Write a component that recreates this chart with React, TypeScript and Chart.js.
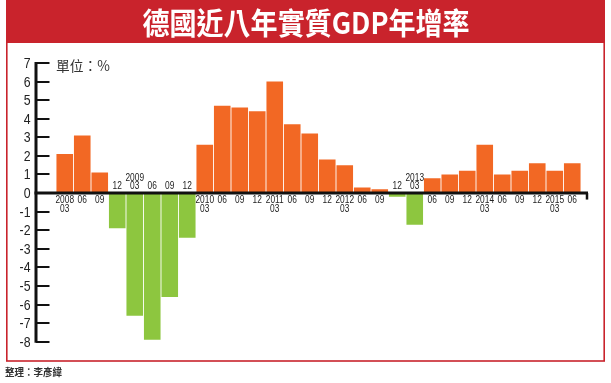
import { useEffect, useRef } from 'react';
import { Chart, registerables } from 'chart.js';

Chart.register(...registerables);

const TITLE = '德國近八年實質GDP年增率';
const UNIT = '單位：%';
const CREDIT = '整理：李彥緯';

const months = [
  '03', '06', '09', '12', '03', '06', '09', '12', '03', '06', '09', '12',
  '03', '06', '09', '12', '03', '06', '09', '12', '03', '06', '09', '12',
  '03', '06', '09', '12', '03', '06',
];
const years = [
  '2008', '', '', '', '2009', '', '', '', '2010', '', '', '',
  '2011', '', '', '', '2012', '', '', '', '2013', '', '', '',
  '2014', '', '', '', '2015', '',
];
const values = [
  2.1, 3.1, 1.1, -1.9, -6.6, -7.9, -5.6, -2.4, 2.6, 4.7, 4.6, 4.4,
  6.0, 3.7, 3.2, 1.8, 1.5, 0.3, 0.2, -0.2, -1.7, 0.8, 1.0, 1.2,
  2.6, 1.0, 1.2, 1.6, 1.2, 1.6,
];
const yTicks = [7, 6, 5, 4, 3, 2, 1, 0, -1, -2, -3, -4, -5, -6, -7, -8];

const ORANGE = '#F26824';
const GREEN = '#8DC63F';
const RED = '#C9232C';
const TEXT = '#222222';

function drawText(ctx: CanvasRenderingContext2D, text: string, x: number, y: number, font: string, align: CanvasTextAlign, sx: number, color: string) {
  ctx.save();
  ctx.font = font;
  ctx.fillStyle = color;
  ctx.textBaseline = 'middle';
  ctx.textAlign = align;
  ctx.translate(x, y);
  ctx.scale(sx, 1);
  ctx.fillText(text, 0, 0);
  ctx.restore();
}

const chromePlugin = {
  id: 'chrome',
  beforeDraw(chart: any) {
    const ctx = chart.ctx as CanvasRenderingContext2D;
    ctx.save();
    ctx.fillStyle = '#ffffff';
    ctx.fillRect(0, 0, chart.width, chart.height);
    // frame
    ctx.strokeStyle = RED;
    ctx.lineWidth = 1.6;
    ctx.strokeRect(6.8, 10, 597.4, 351);
    ctx.fillStyle = RED;
    ctx.fillRect(6, 0, 599, 43);
    // title
    const tf = 'bold 30px "Noto Sans CJK TC", "Noto Sans CJK SC", sans-serif';
    ctx.font = tf;
    const w = ctx.measureText(TITLE).width;
    drawText(ctx, TITLE, 306, 23, tf, 'center', 327 / w, '#ffffff');
    // credit
    drawText(ctx, CREDIT, 5, 372.5, 'bold 10px "Noto Sans CJK TC", sans-serif', 'left', 0.95, '#333333');
    ctx.restore();
  },
  afterDatasetsDraw(chart: any) {
    const ctx = chart.ctx as CanvasRenderingContext2D;
    const y = chart.scales.y;
    const x = chart.scales.x;
    const axisX = 36;
    const zeroY = y.getPixelForValue(0);
    ctx.save();
    ctx.strokeStyle = '#111111';
    ctx.lineCap = 'butt';
    // y axis line
    ctx.lineWidth = 3;
    ctx.beginPath();
    ctx.moveTo(axisX, y.getPixelForValue(yTicks[0]) - 1);
    ctx.lineTo(axisX, y.getPixelForValue(yTicks[yTicks.length - 1]) + 1);
    ctx.stroke();
    // ticks and labels
    ctx.lineWidth = 2;
    yTicks.forEach((t) => {
      const py = Math.round(y.getPixelForValue(t));
      ctx.beginPath();
      ctx.moveTo(axisX, py);
      ctx.lineTo(49.5, py);
      ctx.stroke();
      drawText(ctx, String(t), 30.5, py + 0.5, '15px "Liberation Sans", Arial, sans-serif', 'right', 0.82, TEXT);
    });
    // zero line
    ctx.lineWidth = 3;
    ctx.beginPath();
    ctx.moveTo(axisX - 1.5, zeroY);
    ctx.lineTo(588, zeroY);
    ctx.stroke();
    ctx.lineWidth = 2.5;
    ctx.beginPath();
    ctx.moveTo(587, zeroY);
    ctx.lineTo(587, zeroY + 6.5);
    ctx.stroke();
    // unit
    drawText(ctx, UNIT, 56, 65.5, '14px "Noto Sans CJK TC", sans-serif', 'left', 0.98, '#333333');
    // category labels
    const lf = '11px "Liberation Sans", Arial, sans-serif';
    const sx = 0.76;
    values.forEach((v, i) => {
      const px = x.getPixelForValue(i);
      const yr = years[i];
      if (v >= 0) {
        if (yr) {
          drawText(ctx, yr, px, zeroY + 7, lf, 'center', sx, TEXT);
          drawText(ctx, months[i], px, zeroY + 15.5, lf, 'center', sx, TEXT);
        } else {
          drawText(ctx, months[i], px, zeroY + 7, lf, 'center', sx, TEXT);
        }
      } else {
        if (yr) {
          drawText(ctx, yr, px, zeroY - 15.5, lf, 'center', sx, TEXT);
        }
        drawText(ctx, months[i], px, zeroY - 7, lf, 'center', sx, TEXT);
      }
    });
    ctx.restore();
  },
};

export default function App() {
  const ref = useRef<HTMLCanvasElement | null>(null);
  useEffect(() => {
    if (!ref.current) return;
    const chart = new Chart(ref.current, {
      type: 'bar',
      data: {
        labels: months.map((m, i) => (years[i] ? years[i] + ' ' + m : m)),
        datasets: [
          {
            data: values,
            backgroundColor: values.map((v) => (v >= 0 ? ORANGE : GREEN)),
            borderWidth: 0,
            barPercentage: 1,
            categoryPercentage: 16.6 / 17.5,
          },
        ],
      },
      options: {
        responsive: false,
        animation: false,
        devicePixelRatio: 1,
        layout: { padding: { left: 56, right: 30, top: 63, bottom: 41.3 } },
        plugins: { legend: { display: false }, title: { display: false }, tooltip: { enabled: false } },
        scales: {
          x: { display: false },
          y: { display: false, min: -8, max: 7 },
        },
      },
      plugins: [chromePlugin],
    });
    return () => chart.destroy();
  }, []);
  return (
    <div style={{ position: 'absolute', left: 0, top: 0, width: 611, height: 383 }}>
      <canvas ref={ref} width={611} height={383} style={{ display: 'block', width: 611, height: 383 }} />
    </div>
  );
}
